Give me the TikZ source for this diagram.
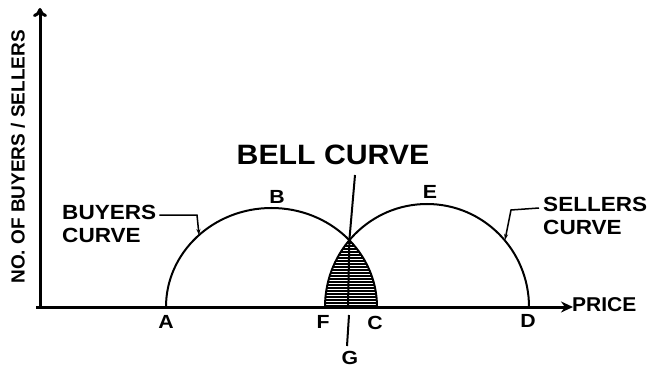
\documentclass[tikz,border=0pt]{standalone}
\usepackage{fontspec}
\setmainfont{Liberation Sans}
\usetikzlibrary{arrows.meta,intersections}
\begin{document}
\begin{tikzpicture}[x=1pt,y=1pt,
  axis/.style={line width=3pt},
  curve/.style={line width=2pt},
  leader/.style={line width=1.5pt,-{Stealth[length=6pt,width=4pt]}},
  lbl/.style={font=\fontsize{19}{19}\selectfont\bfseries,inner sep=0pt,xscale=1.12},
  side/.style={font=\fontsize{20.5}{20.5}\selectfont\bfseries,inner sep=0pt,anchor=base west,xscale=1.1}]
\useasboundingbox (0,0) rectangle (647,367);
% shaded overlap
\begin{scope}
  \clip (166,60) arc[start angle=180,end angle=0,x radius=105.5,y radius=99] -- cycle;
  \clip (325,60) arc[start angle=180,end angle=0,x radius=102,y radius=103] -- cycle;
  \fill[black] (300,58) rectangle (400,170);
  \foreach \yy in {63,66,...,140} \draw[white,line width=0.35pt] (300,\yy) -- (400,\yy);
\end{scope}
% curves
\draw[curve,name path=buy] (166,60) arc[start angle=180,end angle=0,x radius=105.5,y radius=99];
\draw[curve,name path=sell] (325,60) arc[start angle=180,end angle=0,x radius=102,y radius=103];
\path[name intersections={of=buy and sell,by=X}];
% axes
\coordinate (O) at (40,60);
\coordinate (ytip) at (40,359);
\coordinate (xtip) at (573,60);
\draw[axis,-{To[length=9pt,width=14pt]}] (40,58.5) -- (ytip);
\draw[axis,-{Stealth[length=12pt,width=11pt]}] (36,60) -- (xtip);
% bell line and G line
\coordinate (btop) at (355,192);
\coordinate (bbot) at (348,60);
\draw[curve] (btop) -- (X) -- (bbot);
\coordinate (gtop) at (349,52);
\coordinate (gbot) at (347,21);
\draw[curve] (gtop) -- (gbot);
% texts
\node[font=\fontsize{19}{19}\selectfont\bfseries,rotate=90,inner sep=0pt] (ylab) at (18,210) {NO. OF BUYERS / SELLERS};
\node[font=\fontsize{20}{20}\selectfont\bfseries,inner sep=0pt,anchor=west,xscale=1.05] (price) at (572,62) {PRICE};
\node[font=\fontsize{28}{28}\selectfont\bfseries,inner sep=0pt,xscale=1.08] (bell) at (333,212) {BELL CURVE};
\node[side] (buy1) at (62,148) {BUYERS};
\node[side] (buy2) at (62,125) {CURVE};
\node[side] (sel1) at (543,155) {SELLERS};
\node[side] (sel2) at (543,132) {CURVE};
\node[lbl] (A) at (166,45) {A};
\node[lbl] (F) at (323,45) {F};
\node[lbl] (C) at (375,44) {C};
\node[lbl] (D) at (528,46) {D};
\node[lbl] (B) at (277,170) {B};
\node[lbl] (E) at (430,175) {E};
\node[lbl] (G) at (350,9.5) {G};
% leaders
\coordinate (bl1) at (197,152);
\coordinate (bl2) at (199,132);
\draw[leader] (buy1.east |- 0,152) ++(3,0) -- (bl1) -- (bl2);
\coordinate (sl1) at (511,157);
\coordinate (sl2) at (505,127);
\draw[leader] (sel1.west |- 0,159) ++(-4,0) -- (sl1) -- (sl2);
\end{tikzpicture}
\end{document}
